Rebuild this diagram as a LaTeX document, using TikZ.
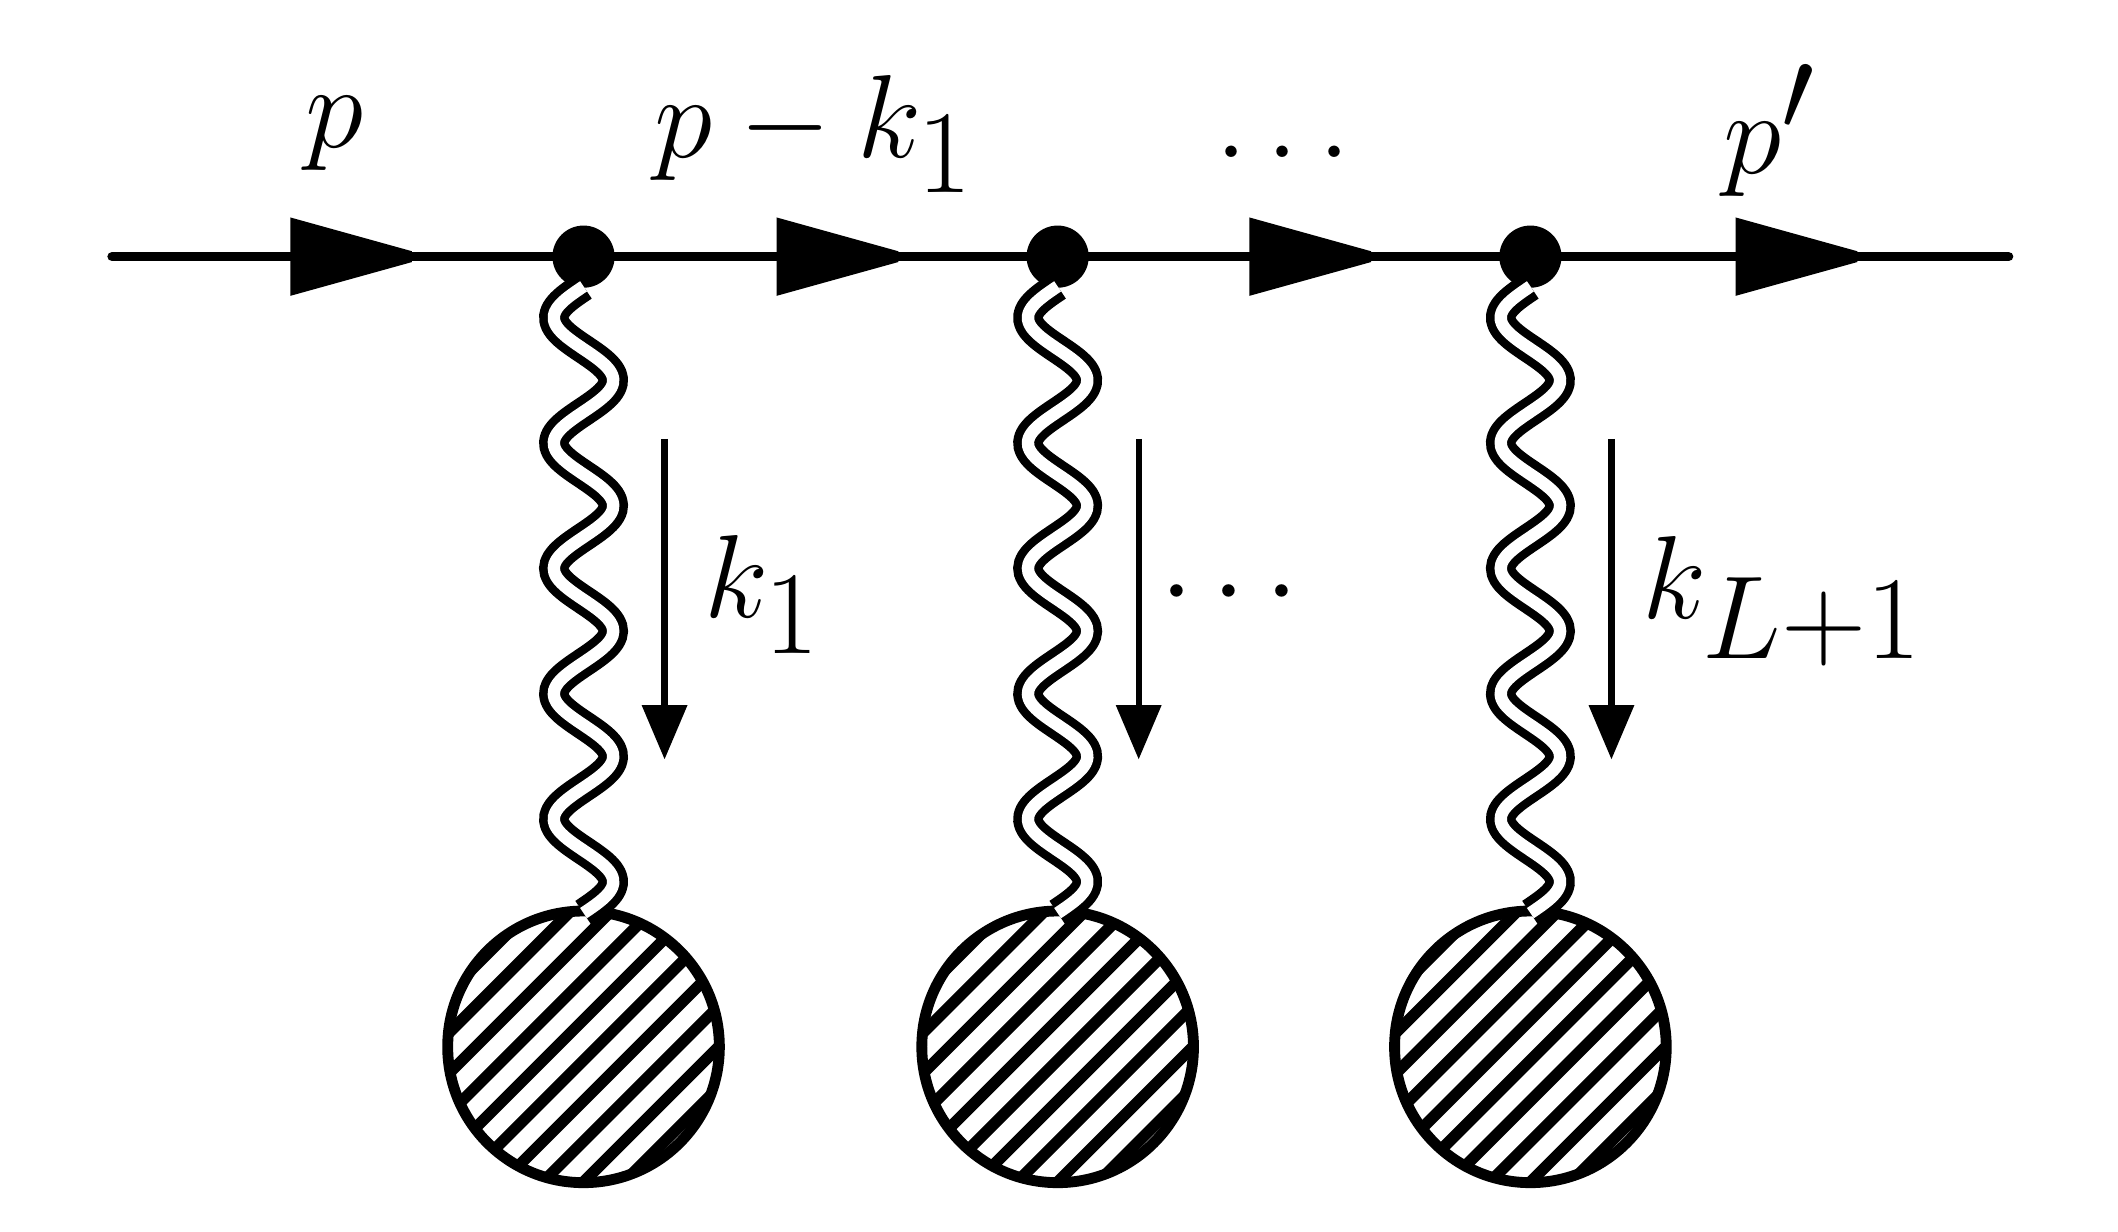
\documentclass[tikz,border=0pt]{standalone}
\begin{document}
\begin{tikzpicture}[x=0.01cm,y=-0.01cm,
  main/.style={line width=2pt,line cap=round},
  vtx/.style={circle,fill=black,inner sep=0pt,minimum size=0.46cm},
  blob/.style={circle,draw=black,line width=2pt,minimum size=2.02cm,inner sep=0pt},
  lbl/.style={font=\fontsize{34}{40}\selectfont}]
\useasboundingbox (0,0) rectangle (1568,912);
\coordinate (L) at (83,190); \coordinate (R) at (1487,190);
\draw[main] (L) -- (R);
\foreach \a in {215,575,925,1285}{
  \fill (\a,161) -- (\a+90,186) -- (\a+90,194) -- (\a,219) -- cycle;}
\foreach \xx/\n in {432/1,783/2,1133/3}{
  \node[vtx] (v\n) at (\xx,190) {};
  \node[blob] (b\n) at (\xx,775) {};
  \begin{scope}
    \clip (\xx,775) circle (1.0cm);
    \foreach \d in {-200,-170,...,200}{
      \draw[line width=2.4pt] (\xx+\d-150,775+150) -- (\xx+\d+150,775-150);}
  \end{scope}
  \draw[line width=2pt] (b\n) circle (1.0cm);
  \draw[line width=6.2pt] plot[smooth,variable=\t,domain=0:464,samples=150] ({\xx-22*sin(3.8793*\t)},{212+\t});
  \draw[line width=2.6pt,white] plot[smooth,variable=\t,domain=0:464,samples=150] ({\xx-22*sin(3.8793*\t)},{212+\t});
  \coordinate (t\n) at (\xx+60,325);
  \coordinate (h\n) at (\xx+60,562);
  \draw[line width=1.3pt] (t\n) -- (\xx+60,525);
  \fill (\xx+43,522) -- (\xx+77,522) -- (h\n) -- cycle;
}
\node[lbl] (lp) at (248,99) {$p$};
\node[lbl] (lpk) at (603,99) {$p-k_1$};
\node[lbl] (ld) at (950,112) {$\ldots$};
\node[lbl] (lpp) at (1310,97) {$p'$};
\node[lbl] (lk1) at (565,440) {$k_1$};
\node[font=\fontsize{28}{32}\selectfont] (lmd) at (910,440) {$\cdots$};
\node[lbl] (lkL) at (1320,445) {$k_{L+1}$};
\end{tikzpicture}
\end{document}
